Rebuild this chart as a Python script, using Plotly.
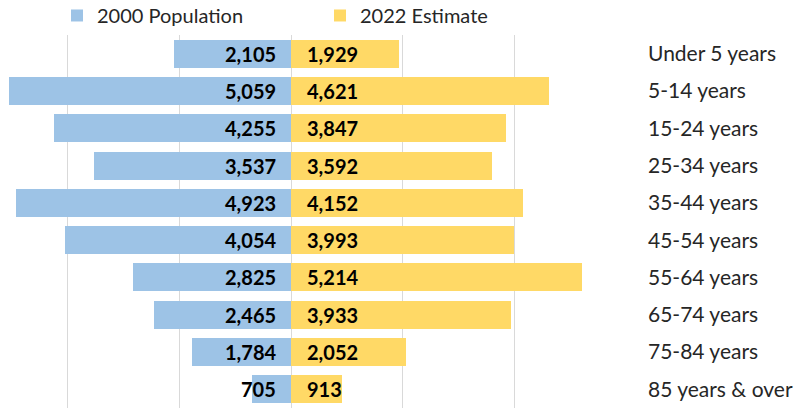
import plotly.graph_objects as go

categories = ["Under 5 years", "5-14 years", "15-24 years", "25-34 years", "35-44 years",
              "45-54 years", "55-64 years", "65-74 years", "75-84 years", "85 years & over"]
pop_2000 = [2105, 5059, 4255, 3537, 4923, 4054, 2825, 2465, 1784, 705]
est_2022 = [1929, 4621, 3847, 3592, 4152, 3993, 5214, 3933, 2052, 913]
series_names = ["2000 Population", "2022 Estimate"]
tick_vals = [-4000, -2000, 0, 2000, 4000, 6000]

BLUE = "#9DC3E6"
YELLOW = "#FFD966"
FONT = "Lato"

fig = go.Figure()
fig.add_trace(go.Bar(
    y=categories, x=[-v for v in pop_2000], orientation="h", name=series_names[0],
    marker=dict(color=BLUE, line=dict(width=0)), width=0.75, hoverinfo="skip"))
fig.add_trace(go.Bar(
    y=categories, x=est_2022, orientation="h", name=series_names[1],
    marker=dict(color=YELLOW, line=dict(width=0)), width=0.75, hoverinfo="skip"))

for c, v in zip(categories, pop_2000):
    fig.add_annotation(x=0, y=c, text=f"<b>{v:,}</b>", showarrow=False,
                       xanchor="right", xshift=-13, font=dict(family=FONT, size=20, color="#000000"))
for c, v in zip(categories, est_2022):
    fig.add_annotation(x=0, y=c, text=f"<b>{v:,}</b>", showarrow=False,
                       xanchor="left", xshift=14, font=dict(family=FONT, size=20, color="#000000"))

fig.update_layout(
    width=805, height=408,
    margin=dict(l=0, r=179, t=35, b=0, autoexpand=False),
    barmode="overlay",
    bargap=0,
    plot_bgcolor="white", paper_bgcolor="white",
    font=dict(family=FONT, size=20, color="#262626"),
    legend=dict(orientation="h", x=0.0708, y=1.1046, xref="container", yref="paper",
                xanchor="left", yanchor="top", bgcolor="rgba(0,0,0,0)",
                font=dict(size=20, color="#262626"), entrywidth=218, entrywidthmode="pixels",
                traceorder="normal"),
    showlegend=True,
)
fig.update_xaxes(range=[-5215, 6000], tickvals=tick_vals, showticklabels=False,
                 showgrid=True, gridcolor="#D9D9D9", gridwidth=1,
                 zeroline=True, zerolinecolor="#D9D9D9", zerolinewidth=1, fixedrange=True,
                 automargin=False)
fig.update_yaxes(autorange="reversed", side="right", showgrid=False, ticks="",
                 ticklabelstandoff=21, tickfont=dict(size=21, color="#262626"), fixedrange=True,
                 automargin=False)

fig.write_html("out.html", config={"displayModeBar": False},
               post_script="document.body.style.margin='0';")
